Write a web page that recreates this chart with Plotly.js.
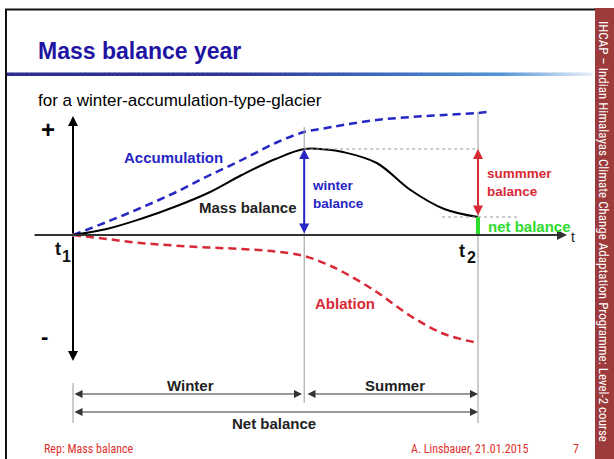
<!DOCTYPE html>
<html>
<head>
<meta charset="utf-8">
<script src="https://cdn.plot.ly/plotly-3.0.1.min.js"></script>
<style>html,body{margin:0;padding:0;background:#fff;}#chart{width:614px;height:459px;}</style>
</head>
<body>
<div id="chart"></div>
<script>
// ---- data (time in months from t1, mass change in arbitrary units) ----
const timeMonths   = [0, 1, 2, 3, 4, 5, 6, 6.85, 7.5, 8, 9, 10, 11, 12];
const massBalance  = [0, 0.06, 0.16, 0.28, 0.42, 0.60, 0.76, 0.86, 0.855, 0.83, 0.72, 0.45, 0.26, 0.18];
const ablation     = [0, -0.04, -0.08, -0.105, -0.125, -0.14, -0.165, -0.21, -0.29, -0.37, -0.57, -0.81, -0.99, -1.08];
const accTime      = [0, 1, 2, 3, 4, 5, 6, 6.85, 7.5, 8, 9, 10, 11, 12, 12.27];
const accumulation = [0, 0.13, 0.27, 0.42, 0.59, 0.75, 0.92, 1.03, 1.07, 1.10, 1.15, 1.18, 1.20, 1.22, 1.23];
const winterEndIdx = 7;   // index of end of winter in timeMonths
const t2Idx = 13;         // index of t2
const periodLabels = ["Winter", "Summer", "Net balance"];
const curveLabels = ["Accumulation", "Mass balance", "Ablation"];
const balanceLabels = ["winter<br>balance", "summmer<br>balance", "net balance"];

// ---- pixel helpers (plot area covers whole figure) ----
const X = px => (px - 73) / 33.75;
const Y = py => (235 - py) / 100;

const tW = timeMonths[winterEndIdx], t2 = timeMonths[t2Idx];
const mbPeak = massBalance[winterEndIdx], mbNet = massBalance[t2Idx];

const BLUE = '#2626c4', RED = '#d82a36', GREEN = '#2edc2e', DARK = '#222';
const FONT = 'Liberation Sans, Arial, sans-serif';
const NARROW = 'Liberation Sans Narrow, Arial Narrow, Roboto Condensed, Liberation Sans, sans-serif';

const traces = [
  {x: accTime, y: accumulation, mode: 'lines', line: {color: BLUE, width: 2.5, dash: '8px,5px', shape: 'spline', smoothing: 1}, hoverinfo: 'skip'},
  {x: timeMonths, y: ablation, mode: 'lines', line: {color: RED, width: 2.5, dash: '8px,5px', shape: 'spline', smoothing: 1}, hoverinfo: 'skip'},
  {x: timeMonths, y: massBalance, mode: 'lines', line: {color: '#000', width: 2, shape: 'spline', smoothing: 1}, hoverinfo: 'skip'}
];

const shapes = [];
function line(x0, y0, x1, y1, color, width, dash) {
  shapes.push({type: 'line', xref: 'x', yref: 'y', x0: x0, y0: y0, x1: x1, y1: y1,
    line: {color: color, width: width, dash: dash || 'solid'}});
}
// slide frame
shapes.push({type: 'rect', xref: 'x', yref: 'y', x0: X(595), x1: X(616), y0: Y(8), y1: Y(461), fillcolor: '#9c3a3c', line: {width: 0}});
line(X(5), Y(9.5), X(595), Y(9.5), '#111', 2);
line(X(6), Y(9), X(6), Y(460), '#111', 2);
// gradient underline
const stops = [[0, [44, 46, 140]], [0.38, [48, 52, 148]], [0.62, [62, 104, 186]], [0.84, [82, 148, 212]], [1, [236, 242, 250]]];
function col(f) {
  for (let i = 1; i < stops.length; i++) {
    if (f <= stops[i][0]) {
      const a = stops[i - 1], b = stops[i], k = (f - a[0]) / (b[0] - a[0]);
      return 'rgb(' + a[1].map((v, j) => Math.round(v + (b[1][j] - v) * k)).join(',') + ')';
    }
  }
  return 'rgb(236,242,250)';
}
const gx0 = 7, gx1 = 592, N = 120;
for (let i = 0; i < N; i++) {
  const a = gx0 + (gx1 - gx0) * i / N, b = gx0 + (gx1 - gx0) * (i + 1) / N + 0.6;
  shapes.push({type: 'rect', xref: 'x', yref: 'y', x0: X(a), x1: X(b), y0: Y(72.5), y1: Y(76), fillcolor: col(i / N), line: {width: 0}, layer: 'below'});
}
// grey guide lines
line(tW, Y(127), tW, Y(403), '#9a9a9a', 1);
line(t2, Y(112), t2, Y(423), '#9a9a9a', 1);
line(0, Y(383), 0, Y(423), '#9a9a9a', 1);
line(tW, mbPeak, t2, mbPeak, '#999', 1, '3px,3px');
line(X(442), mbNet, X(520), mbNet, '#999', 1, '3px,3px');
// net balance green bar
line(t2, 0, t2, mbNet, GREEN, 4);

const ann = [];
function txt(s, px, py, opt) {
  opt = opt || {};
  ann.push({text: s, x: X(px), y: Y(py), xref: 'x', yref: 'y', showarrow: false,
    xanchor: opt.xa || 'center', yanchor: 'middle', align: opt.xa || 'center', textangle: opt.angle || 0,
    font: {family: opt.family || FONT, size: opt.size || 15, color: opt.color || DARK}});
}
function arrow(x, y, ax, ay, color, width, size, both) {
  ann.push({text: '', x: x, y: y, ax: ax, ay: ay, xref: 'x', yref: 'y', axref: 'x', ayref: 'y',
    showarrow: true, arrowhead: 2, startarrowhead: 2, arrowside: both ? 'end+start' : 'end',
    arrowsize: size, startarrowsize: size, arrowwidth: width, arrowcolor: color, standoff: 0, startstandoff: 0});
}
// axes
arrow(0, Y(116), 0, 0, '#000', 2, 1, false);
arrow(0, Y(361), 0, 0, '#000', 2, 1, false);
arrow(X(567), 0, X(33), 0, '#333', 2, 1, false);
// balance arrows
arrow(tW, mbPeak, tW, 0, BLUE, 2, 1, true);
arrow(t2, mbPeak, t2, mbNet, RED, 2, 1, true);
// period arrows
arrow(X(302), Y(394), 0, Y(394), '#333', 1, 1.6, true);
arrow(t2, Y(394), X(306), Y(394), '#333', 1, 1.6, true);
arrow(t2, Y(412), 0, Y(412), '#333', 1, 1.6, true);

// texts
txt('<b>Mass balance year</b>', 36, 51, {xa: 'left', size: 23, color: '#2114a3'});
txt('for a winter-accumulation-type-glacier', 36, 100, {xa: 'left', size: 17, color: '#000'});
txt('<b>+</b>', 48, 129, {size: 24, color: '#000'});
txt('<b>-</b>', 44, 336, {size: 22, color: '#000'});
txt('<b>t</b>', 58, 249, {size: 18, color: '#111'});
txt('<b>1</b>', 66, 256, {size: 16, color: '#111'});
txt('<b>t</b>', 462, 251, {size: 18, color: '#111'});
txt('<b>2</b>', 471, 257, {size: 16, color: '#111'});
txt('t', 573, 237, {size: 14, color: '#222'});
txt('<b>' + curveLabels[0] + '</b>', 173, 157, {color: BLUE});
txt('<b>' + curveLabels[1] + '</b>', 248, 207, {color: DARK});
txt('<b>' + curveLabels[2] + '</b>', 345, 303, {color: RED});
txt('<b>' + balanceLabels[0] + '</b>', 310, 194.5, {xa: 'left', size: 13.5, color: BLUE});
txt('<b>' + balanceLabels[1] + '</b>', 485, 182, {xa: 'left', size: 13.5, color: RED});
txt('<b>' + balanceLabels[2] + '</b>', 486, 226, {xa: 'left', color: GREEN});
txt('<b>' + periodLabels[0] + '</b>', 190, 385, {});
txt('<b>' + periodLabels[1] + '</b>', 395, 385, {});
txt('<b>' + periodLabels[2] + '</b>', 274, 423, {});
txt('Rep: Mass balance', 42, 449, {xa: 'left', size: 12, family: NARROW, color: '#e0302c'});
txt('A. Linsbauer, 21.01.2015', 531, 449, {xa: 'right', size: 12, family: NARROW, color: '#e0302c'});
txt('7', 576, 449, {size: 12, family: NARROW, color: '#e0302c'});
txt('IHCAP – Indian Himalayas Climate Change Adaptation Programme: Level-2 course', 604, 231,
    {size: 13, family: NARROW, color: '#ffffff', angle: 90});

const layout = {
  width: 614, height: 459,
  margin: {l: 0, r: 0, t: 0, b: 0},
  paper_bgcolor: '#fff', plot_bgcolor: '#fff',
  showlegend: false,
  xaxis: {range: [X(0), X(614)], visible: false, fixedrange: true},
  yaxis: {range: [Y(459), Y(0)], visible: false, fixedrange: true},
  shapes: shapes,
  annotations: ann
};
Plotly.newPlot('chart', traces, layout, {staticPlot: true, displayModeBar: false});
</script>
</body>
</html>
